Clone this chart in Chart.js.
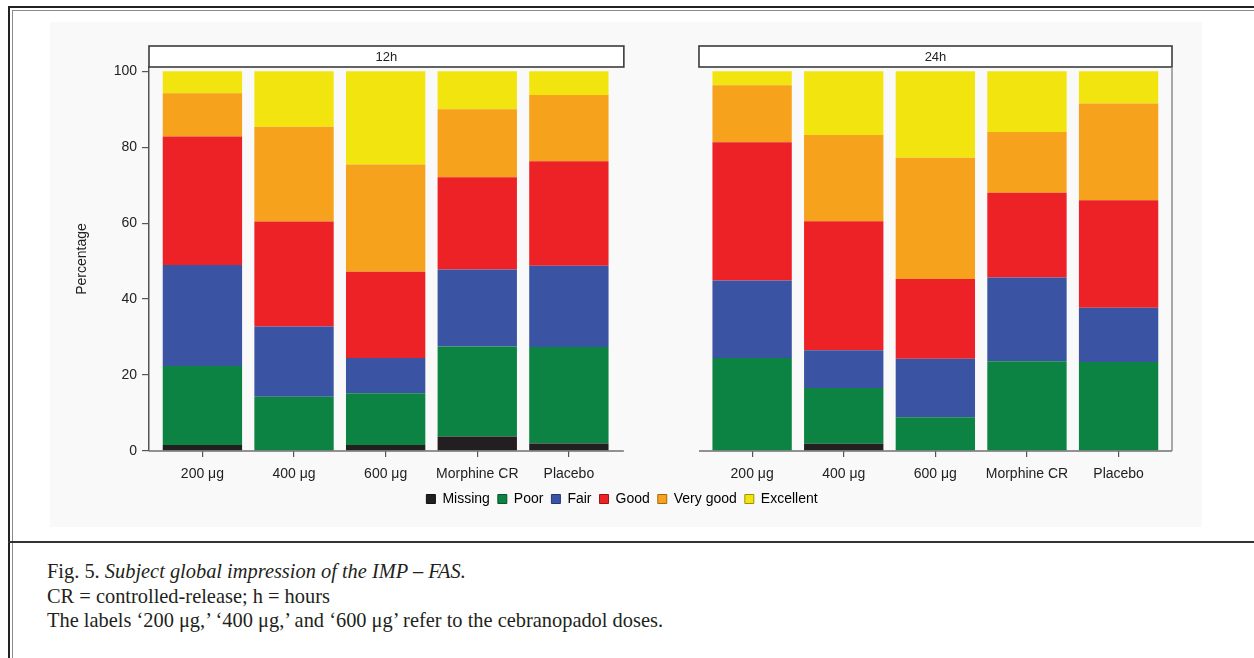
<!DOCTYPE html>
<html>
<head>
<meta charset="utf-8">
<script src="https://cdn.jsdelivr.net/npm/chart.js@4.4.1/dist/chart.umd.min.js"></script>
<style>
  html, body { margin: 0; padding: 0; background: #fff; }
  body { width: 1254px; height: 658px; position: relative; overflow: hidden; }
  .rule { position: absolute; }
  #plotbg { position: absolute; left: 50px; top: 22px; width: 1152px; height: 505px; background: #f9f9f9; }
  #wrap { position: absolute; left: 0; top: 0; width: 1254px; height: 530px; }
  #caption { position: absolute; left: 47px; top: 559px; font-family: "Liberation Serif", serif;
             font-size: 20.4px; line-height: 24.5px; color: #231f20; white-space: nowrap; }
</style>
</head>
<body>
<div id="plotbg"></div>
<div id="wrap"><canvas id="chart" width="1254" height="530"></canvas></div>

<!-- page frame: double rule on top and left, heavy divider above the caption -->
<div class="rule" style="left:8px;top:6px;width:1246px;height:2px;background:#222;"></div>
<div class="rule" style="left:12px;top:10px;width:1242px;height:1px;background:#8a8a8a;"></div>
<div class="rule" style="left:8px;top:6px;width:2px;height:652px;background:#222;"></div>
<div class="rule" style="left:12px;top:10px;width:1px;height:648px;background:#8a8a8a;"></div>
<div class="rule" style="left:8px;top:541px;width:1246px;height:2px;background:#333;"></div>

<div id="caption">
  <div>Fig. 5. <i>Subject global impression of the IMP – FAS.</i></div>
  <div>CR = controlled-release; h = hours</div>
  <div>The labels ‘200 μg,’ ‘400 μg,’ and ‘600 μg’ refer to the cebranopadol doses.</div>
</div>

<script>
// Treatment groups and time points
const groups = ['200 μg', '400 μg', '600 μg', 'Morphine CR', 'Placebo'];
const timepoints = ['12h', '24h'];
const ratings = ['Missing', 'Poor', 'Fair', 'Good', 'Very good', 'Excellent'];

// Percentage of subjects per rating, groups in the order above
const missing12h   = [1.6, 0.0, 1.6, 3.8, 2.0];
const poor12h      = [20.8, 14.3, 13.6, 23.7, 25.4];
const fair12h      = [26.6, 18.5, 9.3, 20.3, 21.4];
const good12h      = [33.8, 27.6, 22.7, 24.3, 27.5];
const veryGood12h  = [11.4, 25.0, 28.2, 17.9, 17.4];
const excellent12h = [5.8, 14.6, 24.6, 10.0, 6.3];

const missing24h   = [0.0, 1.9, 0.0, 0.0, 0.0];
const poor24h      = [24.5, 14.7, 8.9, 23.6, 23.4];
const fair24h      = [20.4, 9.9, 15.4, 22.1, 14.3];
const good24h      = [36.4, 34.0, 21.0, 22.3, 28.3];
const veryGood24h  = [15.0, 22.7, 31.9, 16.0, 25.5];
const excellent24h = [3.7, 16.8, 22.8, 16.0, 8.5];

const yTickValues = [0, 20, 40, 60, 80, 100];

// Styling
const fillColors = ['#231f20', '#0c8342', '#3a53a3', '#ec2227', '#f6a21d', '#f2e50f'];
const edgeColors = ['#111111', '#07552b', '#24367a', '#9a1518', '#a8690e', '#9b920a'];
const FONT = '"Liberation Sans", Arial, sans-serif';
const INK = '#222';

// Each time point is its own panel on one shared linear axis; one empty slot separates them
const panelStart = [0, 6];
const panelEdge = [[-0.583, 4.6], [5.42, 10.583]];

const seriesByRating = [
  [missing12h, missing24h],
  [poor12h, poor24h],
  [fair12h, fair24h],
  [good12h, good24h],
  [veryGood12h, veryGood24h],
  [excellent12h, excellent24h]
];

function toPoints(pair) {
  const out = [];
  pair.forEach((vals, p) => vals.forEach((y, i) => out.push({ x: panelStart[p] + i, y })));
  return out;
}

const xTickValues = [];
const xTickText = {};
panelStart.forEach(s => groups.forEach((g, i) => { xTickValues.push(s + i); xTickText[s + i] = g; }));

const datasets = ratings.map((name, k) => ({
  label: name,
  data: toPoints(seriesByRating[k]),
  backgroundColor: fillColors[k],
  borderWidth: 0,
  barPercentage: 0.866,
  categoryPercentage: 1.0
}));

// Strip headers, split x-axis lines and the right-hand panel edge
const panelDecor = {
  id: 'panelDecor',
  afterDraw(chart) {
    const { ctx, chartArea, scales: { x } } = chart;
    const top = chartArea.top, bottom = chartArea.bottom;
    ctx.save();
    panelEdge.forEach(([a, b], p) => {
      const x0 = x.getPixelForValue(a), x1 = x.getPixelForValue(b);
      // axis line
      ctx.strokeStyle = '#6f6f6f';
      ctx.lineWidth = 1.5;
      ctx.beginPath();
      ctx.moveTo(x0, bottom); ctx.lineTo(x1, bottom);
      ctx.stroke();
      // strip
      const h = 21;
      ctx.fillStyle = '#ffffff';
      ctx.fillRect(x0, top - h, x1 - x0, h);
      ctx.strokeStyle = '#3c3c3c';
      ctx.lineWidth = 1.6;
      ctx.strokeRect(x0, top - h, x1 - x0, h);
      ctx.fillStyle = INK;
      ctx.font = '13px ' + FONT;
      ctx.textAlign = 'center';
      ctx.textBaseline = 'middle';
      ctx.fillText(timepoints[p], (x0 + x1) / 2, top - h / 2 + 0.5);
      if (p === 1) {
        ctx.strokeStyle = '#8c8c8c';
        ctx.lineWidth = 1.5;
        ctx.beginPath();
        ctx.moveTo(x1, top); ctx.lineTo(x1, bottom);
        ctx.stroke();
      }
    });
    ctx.restore();
  }
};

new Chart(document.getElementById('chart'), {
  type: 'bar',
  data: { datasets },
  plugins: [panelDecor],
  options: {
    responsive: false,
    animation: false,
    devicePixelRatio: 1,
    layout: { padding: { left: 72, right: 82, top: 67, bottom: 14 } },
    plugins: {
      tooltip: { enabled: false },
      legend: {
        position: 'bottom',
        labels: {
          boxWidth: 9,
          boxHeight: 9,
          padding: 8,
          color: INK,
          font: { family: FONT, size: 14 },
          generateLabels: chart => chart.data.datasets.map((d, i) => ({
            text: d.label,
            fillStyle: d.backgroundColor,
            strokeStyle: edgeColors[i],
            lineWidth: 1,
            hidden: false,
            datasetIndex: i
          }))
        }
      }
    },
    scales: {
      x: {
        type: 'linear',
        stacked: true,
        min: -0.583,
        max: 10.583,
        offset: false,
        afterBuildTicks: s => { s.ticks = xTickValues.map(v => ({ value: v })); },
        afterFit: s => { s.height = s.height - 7; },
        ticks: {
          autoSkip: false,
          maxRotation: 0,
          padding: 10,
          color: INK,
          font: { family: FONT, size: 14, lineHeight: 1.0 },
          callback: v => xTickText[v] || ''
        },
        grid: { drawOnChartArea: false, drawTicks: true, tickLength: 6, color: '#555', lineWidth: 1.2, offset: false },
        border: { display: false }
      },
      y: {
        stacked: true,
        min: 0,
        max: 101.1,
        afterBuildTicks: s => { s.ticks = yTickValues.map(v => ({ value: v })); },
        afterFit: s => { s.width = 77; },
        ticks: { padding: 5, color: INK, font: { family: FONT, size: 14 } },
        grid: { drawOnChartArea: false, drawTicks: true, tickLength: 7, color: '#555', lineWidth: 1.2 },
        border: { display: true, color: '#555', width: 1.5 },
        title: { display: true, text: 'Percentage', color: INK, font: { family: FONT, size: 14 }, padding: { top: 2, bottom: 0 } }
      }
    }
  }
});
</script>
</body>
</html>
